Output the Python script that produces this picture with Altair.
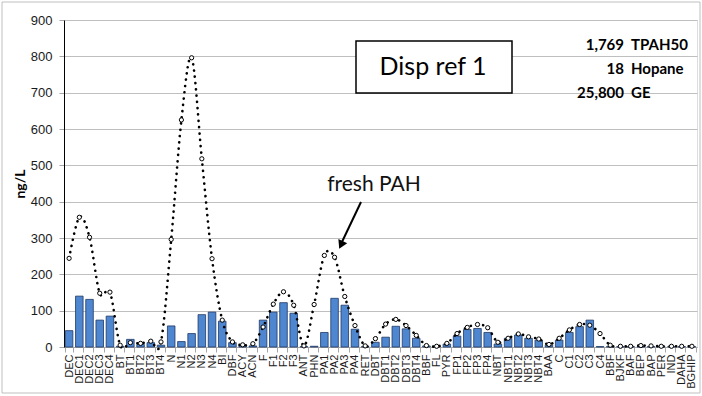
import altair as alt
import pandas as pd

# ---- data ----
labels = ["DEC", "DEC1", "DEC2", "DEC3", "DEC4", "BT", "BT1", "BT2", "BT3", "BT4",
          "N", "N1", "N2", "N3", "N4", "BI", "DBF", "ACY", "ACN", "F", "F1", "F2", "F3",
          "ANT", "PHN", "PA1", "PA2", "PA3", "PA4", "RET", "DBT", "DBT1", "DBT2", "DBT3",
          "DBT4", "BBF", "FL", "PYR", "FP1", "FP2", "FP3", "FP4", "NBT", "NBT1", "NBT2",
          "NBT3", "NBT4", "BAA", "C", "C1", "C2", "C3", "C4", "BBF", "BJKF", "BAF", "BEP",
          "BAP", "PER", "IND", "DAHA", "BGHIP"]

sample_values = [45, 140, 131, 74, 85, 2, 21, 7, 12, 5,
                 58, 15, 37, 89, 96, 71, 12, 4, 3, 74, 96, 122, 93,
                 1, 2, 40, 134, 115, 49, 1, 13, 27, 57, 50,
                 24, 3, 2, 8, 30, 48, 51, 40, 8, 24, 33,
                 24, 19, 5, 19, 40, 56, 74, 1, 1, 1, 1, 1,
                 1, 1, 1, 1, 1]

reference_values = [244, 357, 302, 148, 151, 5, 12, 10, 16, 14,
                    296, 625, 796, 518, 243, 74, 14, 6, 9, 55, 118, 152, 115,
                    3, 117, 252, 247, 139, 59, 3, 23, 63, 76, 59,
                    32, 4, 2, 10, 37, 54, 62, 53, 13, 24, 36,
                    28, 22, 7, 24, 47, 62, 60, 37, 5, 2, 2, 4,
                    3, 2, 2, 2, 2]

y_ticks = [0, 100, 200, 300, 400, 500, 600, 700, 800, 900]
box_text = "Disp ref 1"
arrow_text = "fresh PAH"
summary_numbers = ["1,769", "18", "25,800"]
summary_names = ["TPAH50", "Hopane", "GE"]

df = pd.DataFrame({
    "idx": list(range(len(labels))),
    "label": labels,
    "sample": sample_values,
    "ref": reference_values,
})

label_expr = "[" + ",".join("'" + l + "'" for l in labels) + "][datum.value]"

W, H = 633, 327
TXT = "Lato"

x_axis = alt.Axis(
    title=None, labelExpr=label_expr, labelAngle=-90,
    labelFont="Liberation Sans", labelFontSize=11, labelColor="#1a1a1a",
    labelPadding=2, tickBand="extent", tickColor="#A6A6A6", tickSize=5,
    domainColor="#A6A6A6", grid=False, labelOverlap=False,
)
x_scale = alt.Scale(paddingInner=0.26, paddingOuter=0.13)

y_scale = alt.Scale(domain=[0, 900], nice=False)
y_axis = alt.Axis(
    values=y_ticks, title="ng/L", grid=True, gridColor="#BFBFBF", gridWidth=1,
    labelFont="Liberation Sans", labelFontSize=13, labelColor="#1a1a1a",
    labelPadding=7, tickSize=5, tickColor="#A6A6A6", domainColor="#000000",
    labelOverlap=False,
    titleFont=TXT, titleFontSize=14, titleFontWeight="bold", titleColor="#000000",
    titleX=-44, titleY=H / 2, titleAngle=270, titleAlign="center", titleBaseline="middle",
)

base = alt.Chart(df)

bars = base.mark_bar(color="#4F86D0", stroke="#1F3864", strokeWidth=0.8).encode(
    x=alt.X("idx:O", scale=x_scale, axis=x_axis),
    y=alt.Y("sample:Q", scale=y_scale, axis=y_axis),
)

line = base.mark_line(
    color="#000000", strokeWidth=2.6, strokeDash=[0.1, 6.2], strokeCap="round",
    interpolate="cardinal",
).encode(
    x=alt.X("idx:O", scale=x_scale, axis=x_axis),
    y=alt.Y("ref:Q", scale=y_scale, axis=y_axis),
)

points = base.mark_point(
    shape="circle", size=18, filled=True, fill="#FFFFFF", stroke="#000000",
    strokeWidth=1, opacity=1,
).encode(
    x=alt.X("idx:O", scale=x_scale, axis=x_axis),
    y=alt.Y("ref:Q", scale=y_scale, axis=y_axis),
)

one = pd.DataFrame({"k": [0]})

frame = alt.Chart(one).mark_rect(
    fill="#FFFFFF", fillOpacity=0, stroke="#BFBFBF", strokeWidth=1
).encode(x=alt.value(-62), x2=alt.value(636), y=alt.value(-18), y2=alt.value(373))

box = alt.Chart(one).mark_rect(
    fill="#FFFFFF", stroke="#000000", strokeWidth=1.5
).encode(x=alt.value(292), x2=alt.value(448), y=alt.value(21), y2=alt.value(73))

box_label = alt.Chart(one).mark_text(
    text=box_text, font=TXT, fontSize=25, color="#000000", align="center", baseline="middle"
).encode(x=alt.value(369), y=alt.value(47))

arrow_label = alt.Chart(one).mark_text(
    text=arrow_text, font=TXT, fontSize=21, color="#111111", align="center", baseline="middle"
).encode(x=alt.value(310), y=alt.value(165))

arrow_line = alt.Chart(one).mark_rule(color="#000000", strokeWidth=2).encode(
    x=alt.value(297), y=alt.value(182), x2=alt.value(277), y2=alt.value(224)
)

arrow_head = alt.Chart(one).mark_point(
    shape="triangle-up", filled=True, color="#000000", size=95, angle=205, opacity=1
).encode(x=alt.value(277), y=alt.value(225))

summary_layers = []
for i, (num, name) in enumerate(zip(summary_numbers, summary_names)):
    yy = 25 + 24 * i
    summary_layers.append(
        alt.Chart(one).mark_text(
            text=num, font=TXT, fontSize=15, fontWeight="bold", color="#000000",
            align="right", baseline="middle"
        ).encode(x=alt.value(560), y=alt.value(yy))
    )
    summary_layers.append(
        alt.Chart(one).mark_text(
            text=name, font=TXT, fontSize=15, fontWeight="bold", color="#000000",
            align="left", baseline="middle"
        ).encode(x=alt.value(567), y=alt.value(yy))
    )

chart = alt.layer(
    bars, line, points, frame, box, box_label, arrow_label, arrow_line, arrow_head,
    *summary_layers,
).properties(
    width=W, height=H,
    autosize=alt.AutoSizeParams(type="none"),
    padding={"left": 64, "top": 20, "right": 5, "bottom": 49},
).configure_view(
    stroke="#000000", strokeWidth=1
).configure(
    background="#FFFFFF"
)

chart.save("out.html", embed_options={"renderer": "svg", "actions": False})
